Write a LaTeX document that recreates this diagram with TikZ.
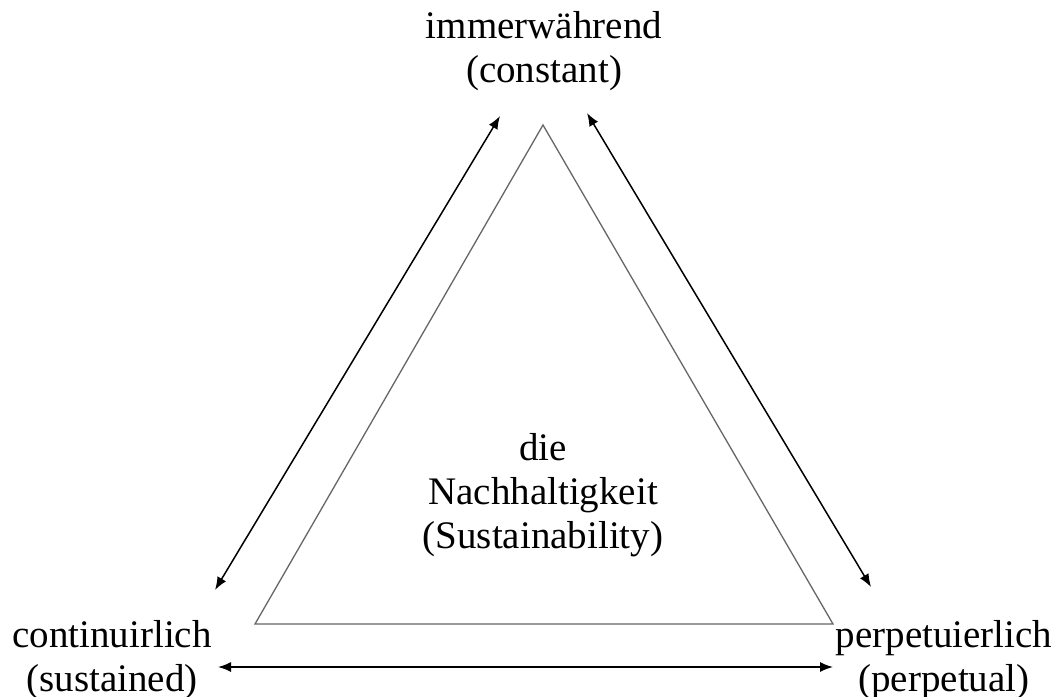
\documentclass[tikz,border=0pt]{standalone}
\usepackage{fontspec}
\setmainfont{Liberation Serif}
\usetikzlibrary{arrows.meta}
\begin{document}
\begin{tikzpicture}[x=1pt,y=-1pt,
  lbl/.style={align=center,inner sep=0pt,font=\fontsize{39}{44}\selectfont},
  side/.style={draw=black!60,line width=1.3pt},
  link/.style={draw=black,line width=1.5pt,{Latex[length=13pt,width=10pt]}-{Latex[length=13pt,width=10pt]}}]
\useasboundingbox (0,0) rectangle (1057,696);
% triangle corners
\coordinate (A) at (543,125);
\coordinate (B) at (255,624);
\coordinate (C) at (833,624);
\draw[side] (A) -- (B) -- (C) -- cycle;
% labels
\node[lbl] (top) at (544,51) {immerwährend\\(constant)};
\node[lbl] (left) at (112,660) {continuirlich\\(sustained)};
\node[lbl] (right) at (944,660) {perpetuierlich\\(perpetual)};
\node[lbl] (mid) at (543,495) {die\\Nachhaltigkeit\\(Sustainability)};
% arrow end points
\coordinate (l1) at (500,116);
\coordinate (l2) at (215,590);
\coordinate (r1) at (587,113);
\coordinate (r2) at (871,587);
\coordinate (b1) at (218,667);
\coordinate (b2) at (833,667);
\draw[link] (l2) -- (l1);
\draw[link] (r1) -- (r2);
\draw[link] (b1) -- (b2);
\end{tikzpicture}
\end{document}
